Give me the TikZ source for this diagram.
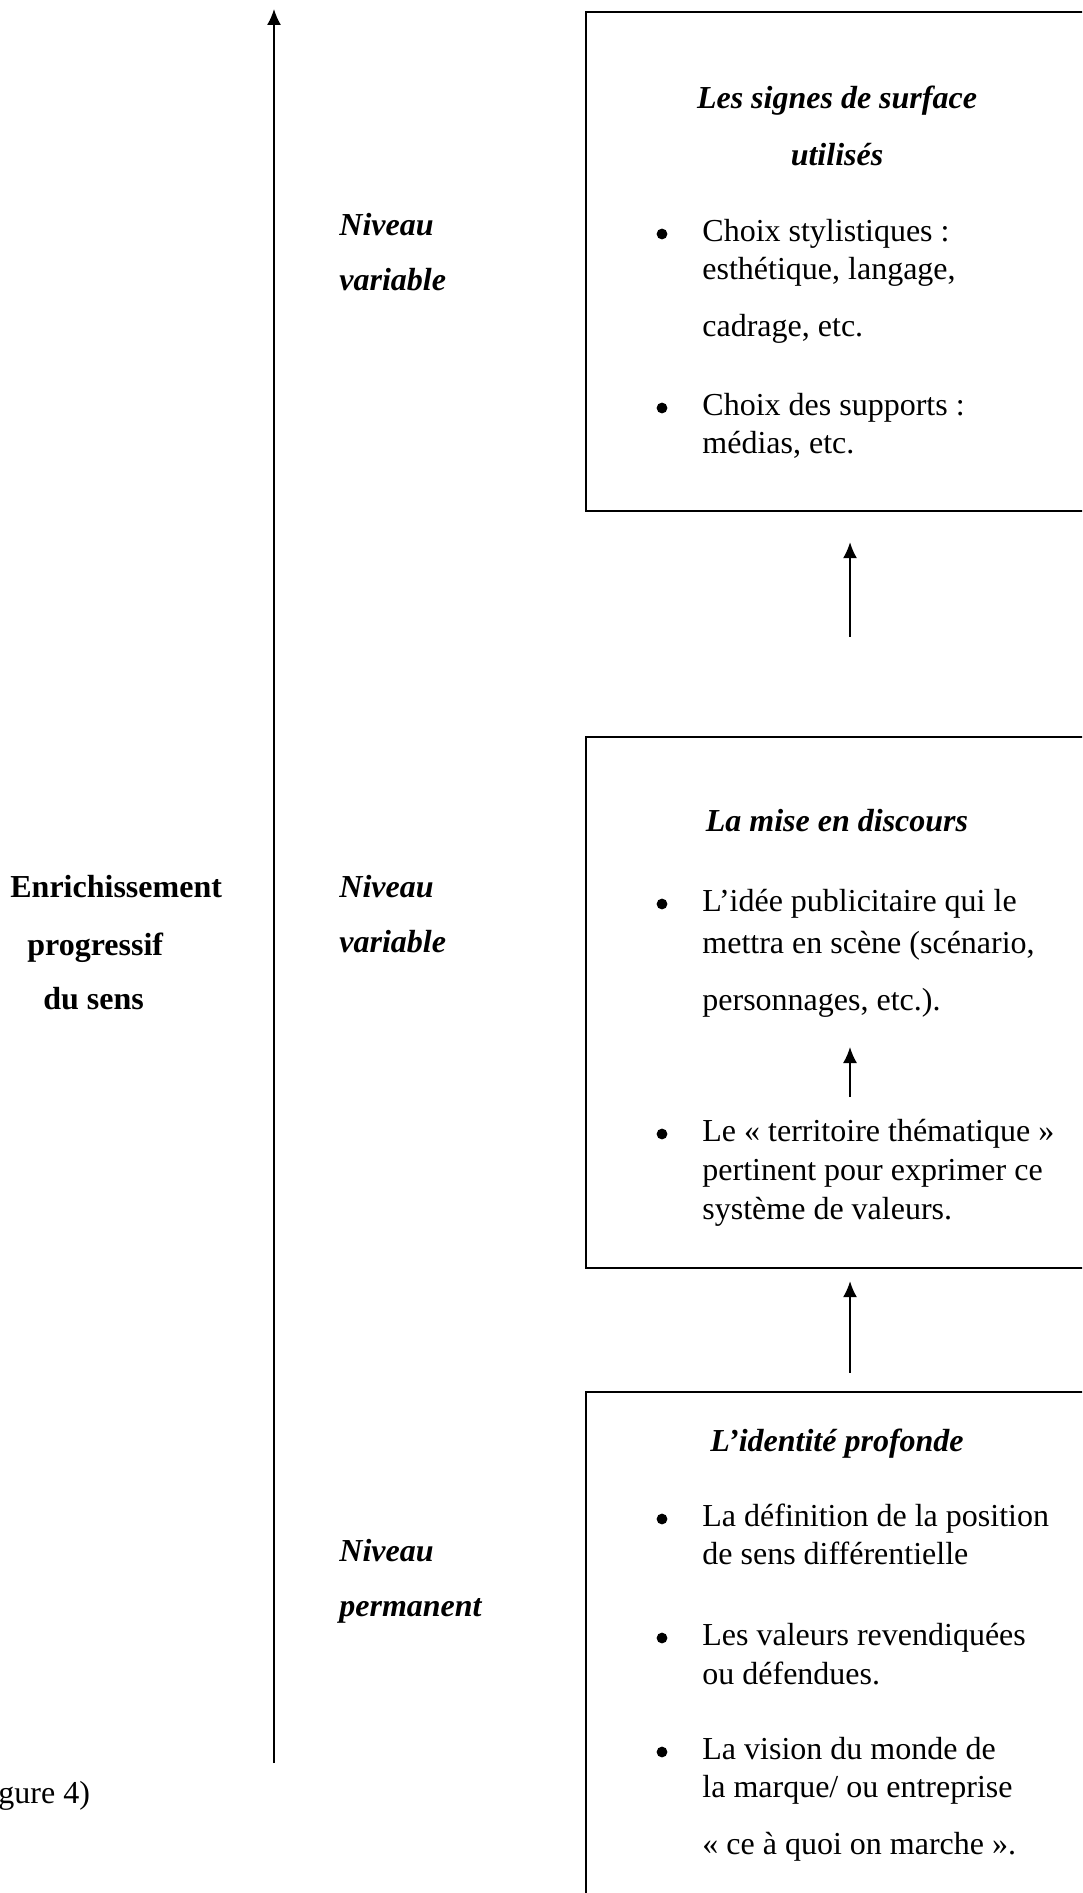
\documentclass[tikz,border=0pt]{standalone}
\usepackage{fontspec}
\setmainfont{Liberation Serif}
\usetikzlibrary{arrows.meta}
\begin{document}
\begin{tikzpicture}[x=0.5pt,y=-0.5pt,
  txt/.style={inner sep=0pt, anchor=west, font=\fontsize{16}{20}\selectfont, text height=1.02em, text depth=0.1em},
  ttl/.style={txt, anchor=center, font=\fontsize{16}{20}\selectfont\bfseries\itshape},
  lvl/.style={txt, font=\fontsize{16}{20}\selectfont\bfseries\itshape},
  big/.style={txt, font=\fontsize{16}{20}\selectfont\bfseries},
  bul/.style={circle, fill, inner sep=0pt, minimum size=5.4pt, yshift=-1pt},
  boxs/.style={draw, line width=1.15pt, inner sep=0pt},
  arr/.style={line width=0.85pt, -{Latex[length=8pt,width=7pt]}}
]
\useasboundingbox (0,0) rectangle (1082,1893);
\clip (0,0) rectangle (1082,1893);

% main axis
\coordinate (axbot) at (274,1763);
\coordinate (axtop) at (274,9);
\draw[arr] (axbot) -- (axtop);

% boxes
\node[boxs, minimum width=264pt, minimum height=249.5pt] (box1) at (850,261.5) {};
\node[boxs, minimum width=264pt, minimum height=265.5pt] (box2) at (850,1002.5) {};
\node[boxs, minimum width=264pt, minimum height=259pt] (box3) at (850,1651) {};

\draw[arr, shorten <=49.5pt, shorten >=15pt] (box2.north) -- (box1.south);
\draw[arr, shorten <=9pt, shorten >=6pt] (box3.north) -- (box2.south);

% left labels
\node[big] (e1) at (10,888) {Enrichissement};
\node[big] (e2) at (27,946) {progressif};
\node[big] (e3) at (43,1000) {du sens};
\node[txt] (fig) at (-2,1794) {gure 4)};

% level labels
\node[lvl] (n1a) at (339,226) {Niveau};
\node[lvl] (n1b) at (339,281) {variable};
\node[lvl] (n2a) at (339,888) {Niveau};
\node[lvl] (n2b) at (339,943) {variable};
\node[lvl] (n3a) at (339,1552) {Niveau};
\node[lvl] (n3b) at (339,1607) {permanent};

% box 1
\node[ttl] (t1a) at (837,99) {Les signes de surface};
\node[ttl] (t1b) at (837,156) {utilisés};
\node[bul] (b11) at (662,232) {};
\node[txt] (l11) at (702,232) {Choix stylistiques :};
\node[txt] (l12) at (702,270) {esthétique, langage,};
\node[txt] (l13) at (702,327) {cadrage, etc.};
\node[bul] (b12) at (662,406) {};
\node[txt] (l14) at (702,406) {Choix des supports :};
\node[txt] (l15) at (702,444) {médias, etc.};

% box 2
\node[ttl] (t2) at (837,822) {La mise en discours};
\node[bul] (b21) at (662,902) {};
\node[txt] (l21) at (702,902) {L’idée publicitaire qui le};
\node[txt] (l22) at (702,944) {mettra en scène (scénario,};
\node[txt] (l23) at (702,1001) {personnages, etc.).};
\node[bul] (b22) at (662,1132) {};
\node[txt] (l24) at (702,1132) {Le « territoire thématique »};
\node[txt] (l25) at (702,1171) {pertinent pour exprimer ce};
\node[txt] (l26) at (702,1210) {système de valeurs.};
\coordinate (ia) at (850,1097);
\coordinate (ib) at (850,1047);
\draw[arr] (ia) -- (ib);

% box 3
\node[ttl] (t3) at (837,1442) {L’identité profonde};
\node[bul] (b31) at (662,1517) {};
\node[txt] (l31) at (702,1517) {La définition de la position};
\node[txt] (l32) at (702,1555) {de sens différentielle};
\node[bul] (b32) at (662,1636) {};
\node[txt] (l33) at (702,1636) {Les valeurs revendiquées};
\node[txt] (l34) at (702,1675) {ou défendues.};
\node[bul] (b33) at (662,1750) {};
\node[txt] (l35) at (702,1750) {La vision du monde de};
\node[txt] (l36) at (702,1788) {la marque/ ou entreprise};
\node[txt] (l37) at (702,1845) {« ce à quoi on marche ».};
\end{tikzpicture}
\end{document}
